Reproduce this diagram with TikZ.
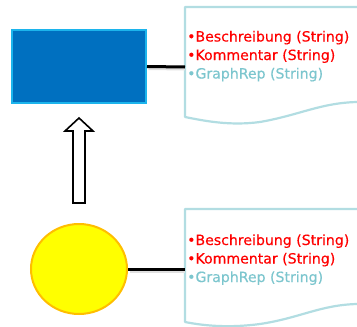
\documentclass[tikz,border=0pt]{standalone}
\usepackage{fontspec}
\setmainfont{DejaVu Sans}
\newfontfamily\attrfont{DejaVu Sans}[FakeBold=0.3]
\usetikzlibrary{shapes.geometric}
\definecolor{boxfill}{HTML}{0070C0}
\definecolor{boxedge}{HTML}{1CB4EC}
\definecolor{ellfill}{HTML}{FFFF00}
\definecolor{elledge}{HTML}{FFBE00}
\definecolor{docedge}{HTML}{B2DDE2}
\definecolor{attred}{HTML}{FF0000}
\definecolor{attteal}{HTML}{7CC6CE}
\tikzset{
  classbox/.style={draw=boxedge, line width=2pt, fill=boxfill, rectangle, inner sep=0pt, minimum width=134pt, minimum height=73pt},
  instell/.style={draw=elledge, line width=2pt, fill=ellfill, ellipse, inner sep=0pt, minimum width=96pt, minimum height=90pt},
  docshape/.style={draw=docedge, line width=2.2pt, fill=white, line join=round},
  link/.style={draw=black, line width=3pt},
  linkshadow/.style={draw=black!12, line width=3pt},
  attr/.style={anchor=base west, inner sep=0pt, font=\attrfont\fontsize{14.1}{18.5}\selectfont},
  blockarrow/.style={draw=black, line width=1.6pt, fill=white, line join=miter}
}
\begin{document}
\begin{tikzpicture}[x=1pt,y=-1pt]
\useasboundingbox (0,0) rectangle (357,327);
\clip (0,0) rectangle (357,327);
% upper document
\path[docshape] (185,117) -- (185,7) -- (370,7) -- (370,102) -- (357,102)
  .. controls (320,103) and (300,115) .. (260,122)
  .. controls (230,126) and (205,121) .. (185,117) -- cycle;
\coordinate (docA) at (185,67);
% lower document
\path[docshape] (185,322) -- (185,209) -- (370,209) -- (370,304) -- (357,304)
  .. controls (320,305) and (300,318) .. (260,324)
  .. controls (230,328) and (205,326) .. (185,322) -- cycle;
\coordinate (docB) at (185,269);
% nodes
\node[classbox] (cls) at (79,66.5) {};
\node[instell] (inst) at (79,269) {};
% connectors
\draw[linkshadow] ([shift={(1.5,2)}]cls.east) -- ([shift={(0,2)}]docA);
\draw[link] (cls.east) -- (docA);
\draw[linkshadow] ([shift={(1.5,2)}]inst.east) -- ([shift={(0,2)}]docB);
\draw[link] (inst.east) -- (docB);
% block arrow
\draw[blockarrow] (79,118) -- (93,131) -- (85,131) -- (85,203) -- (73,203) -- (73,131) -- (65,131) -- cycle;
% attributes
\node[attr, text=attred] (a1) at (187,41.5) {•Beschreibung (String)};
\node[attr, text=attred] (a2) at (187,60) {•Kommentar (String)};
\node[attr, text=attteal] (a3) at (187,78.5) {•GraphRep (String)};
\node[attr, text=attred] (b1) at (187,245) {•Beschreibung (String)};
\node[attr, text=attred] (b2) at (187,263.5) {•Kommentar (String)};
\node[attr, text=attteal] (b3) at (187,282) {•GraphRep (String)};
\end{tikzpicture}
\end{document}
